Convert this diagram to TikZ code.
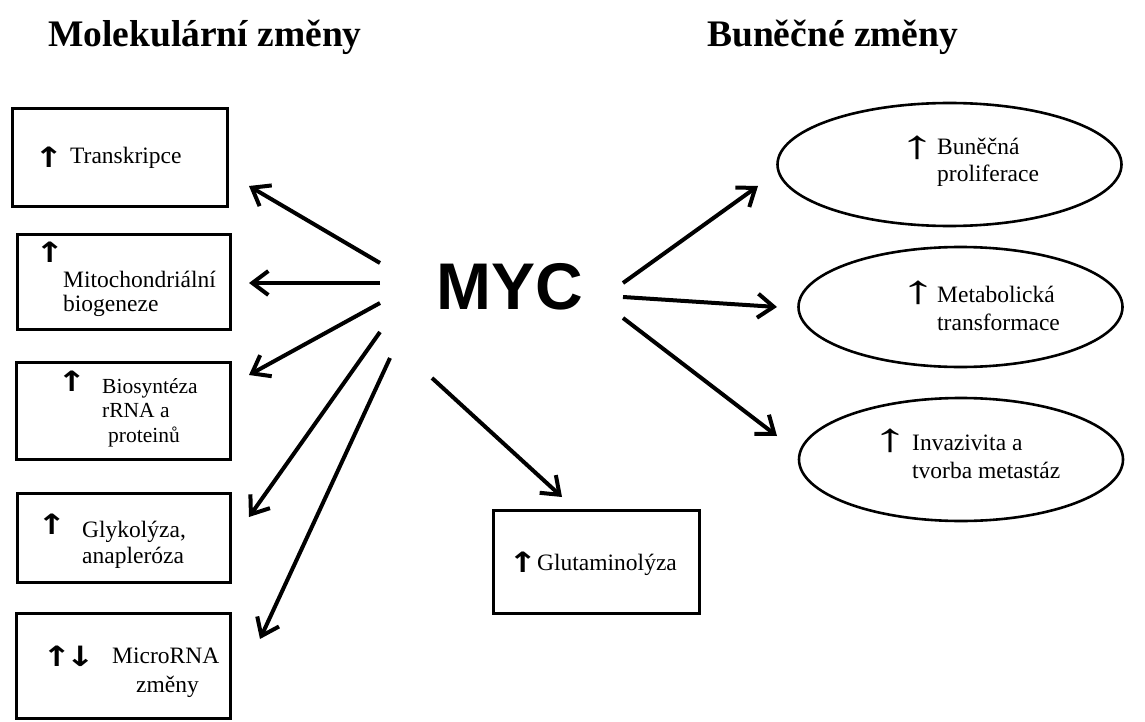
\documentclass[tikz,border=0pt]{standalone}
\usepackage{fontspec}
\setmainfont{Liberation Serif}
\newfontfamily\mycfont{Liberation Sans}
\newfontfamily\symfont{DejaVu Sans}
\usetikzlibrary{arrows.meta,shapes.geometric}
\newcommand\txtsz{\fontsize{23.5pt}{26pt}\selectfont}
\newcommand\boxup{\scalebox{1.25}[1]{↑}}
\newcommand\boxdown{\scalebox{1.25}[1]{↓}}
\newcommand\ovalup{\scalebox{1.8}[1]{↑}}
\begin{document}
\begin{tikzpicture}[x=1pt,y=-1pt,
  box/.style={draw,line width=3pt,rectangle,inner sep=0pt},
  oval/.style={draw,line width=2.6pt,ellipse,inner sep=0pt},
  lbl/.style={anchor=base west,inner sep=0pt,font=\txtsz,align=left},
  sym/.style={anchor=base west,inner sep=0pt,font=\symfont\bfseries\fontsize{28pt}{30pt}\selectfont},
  thinsym/.style={anchor=base west,inner sep=0pt,font=\fontsize{40pt}{42pt}\selectfont},
  title/.style={anchor=base west,inner sep=0pt,font=\bfseries\fontsize{37.5pt}{40pt}\selectfont},
  arr/.style={line width=4pt,-{Straight Barb[length=16pt,width=24pt,line width=4pt]}}
]
\useasboundingbox (0,0) rectangle (1145,722);
\fill[white] (0,0) rectangle (1145,722);

% titles
\node[title] (t1) at (48,47) {Molekulární změny};
\node[title] (t2) at (707,47) {Buněčné změny};

% MYC
\node[anchor=base west,inner sep=0pt,font=\mycfont\bfseries\fontsize{66pt}{70pt}\selectfont] (myc) at (436,309) {MYC};

% left boxes
\node[box,minimum width=215pt,minimum height=97pt] (b1) at (119.5,157.5) {};
\node[box,minimum width=213pt,minimum height=95pt] (b2) at (123.5,281.5) {};
\node[box,minimum width=214pt,minimum height=97pt] (b3) at (123,410.5) {};
\node[box,minimum width=213pt,minimum height=89pt] (b4) at (123.5,537.5) {};
\node[box,minimum width=214pt,minimum height=105pt] (b5) at (123,665.5) {};
\node[box,minimum width=206pt,minimum height=103pt] (bg) at (596,561.5) {};

% ellipses
\node[oval,minimum width=344pt,minimum height=123pt] (e1) at (949.5,164.5) {};
\node[oval,minimum width=324pt,minimum height=120pt] (e2) at (960.5,307) {};
\node[oval,minimum width=324pt,minimum height=123pt] (e3) at (961,459.5) {};

% box texts (anchors at baseline of the last line)
\node[sym] (u1) at (34,168) {\boxup};
\node[lbl] (x1) at (70,164) {Transkripce};
\node[sym] (u2) at (35,262) {\boxup};
\node[lbl,font=\fontsize{23.5pt}{23.5pt}\selectfont] (x2) at (63,311) {Mitochondriální\\biogeneze};
\node[sym] (u3) at (57,391) {\boxup};
\node[lbl,font=\fontsize{21.5pt}{24.5pt}\selectfont] (x3) at (102,442) {Biosyntéza\\rRNA a\\\hspace*{6pt}proteinů};
\node[sym] (u4) at (37,534) {\boxup};
\node[lbl,font=\fontsize{23.5pt}{26pt}\selectfont] (x4) at (82,563) {Glykolýza,\\anapleróza};
\node[sym] (u5) at (42,666) {\boxup\hspace*{-6pt}\boxdown};
\node[lbl,font=\fontsize{23.5pt}{29pt}\selectfont] (x5) at (112,692) {MicroRNA\\\hspace*{24pt}změny};
\node[sym] (ug) at (508,572) {\boxup};
\node[lbl] (xg) at (537,570) {Glutaminolýza};

% ellipse texts
\node[thinsym] (v1) at (899,159) {\ovalup};
\node[lbl,font=\fontsize{23.5pt}{27pt}\selectfont] (y1) at (937,182) {Buněčná\\proliferace};
\node[thinsym] (v2) at (900,303) {\ovalup};
\node[lbl,font=\fontsize{23.5pt}{28pt}\selectfont] (y2) at (937,330) {Metabolická\\transformace};
\node[thinsym] (v3) at (872,451) {\ovalup};
\node[lbl,font=\fontsize{23.5pt}{28pt}\selectfont] (y3) at (912,478) {Invazivita a\\tvorba metastáz};

% connector end points
\coordinate (s1) at (380,263); \coordinate (f1) at (249,186);
\coordinate (s2) at (380,283); \coordinate (f2) at (249,283);
\coordinate (s3) at (380,303); \coordinate (f3) at (249,375);
\coordinate (s4) at (380,332); \coordinate (f4) at (249,517);
\coordinate (s5) at (390,358); \coordinate (f5) at (260,639);
\coordinate (s6) at (432,378); \coordinate (f6) at (562,497);
\coordinate (r1) at (623,283); \coordinate (g1) at (758,186);
\coordinate (r2) at (623,297); \coordinate (g2) at (777,307);
\coordinate (r3) at (623,318); \coordinate (g3) at (777,436);

\draw[arr] (s1) -- (f1);
\draw[arr] (s2) -- (f2);
\draw[arr] (s3) -- (f3);
\draw[arr] (s4) -- (f4);
\draw[arr] (s5) -- (f5);
\draw[arr] (s6) -- (f6);
\draw[arr] (r1) -- (g1);
\draw[arr] (r2) -- (g2);
\draw[arr] (r3) -- (g3);
\end{tikzpicture}
\end{document}
